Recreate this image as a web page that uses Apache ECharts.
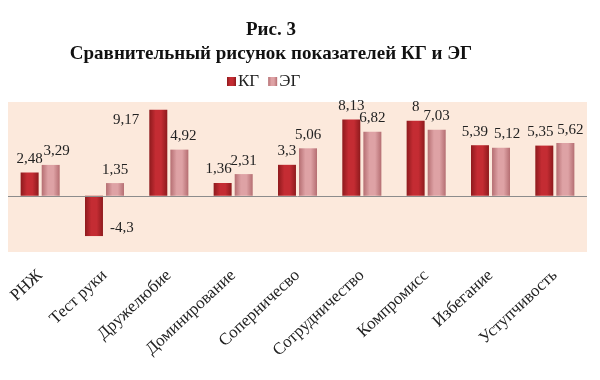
<!DOCTYPE html>
<html><head><meta charset="utf-8">
<script src="https://cdn.jsdelivr.net/npm/echarts@6/dist/echarts.min.js"></script>
<style>html,body{margin:0;padding:0;background:#fff}#c{width:600px;height:380px}</style>
</head><body><div id="c"></div>
<script>
var categories = ['РНЖ','Тест руки','Дружелюбие','Доминирование','Соперничесво','Сотрудничество','Компромисс','Избегание','Уступчивость'];
var seriesNames = ['КГ','ЭГ'];
var kgValues = [2.48,-4.3,9.17,1.36,3.3,8.13,8,5.39,5.35];
var egValues = [3.29,1.35,4.92,2.31,5.06,6.82,7.03,5.12,5.62];

var font = 'Liberation Serif';
function grad(edge, mid){
  return new echarts.graphic.LinearGradient(0,0,1,0,[
    {offset:0,color:edge},{offset:0.35,color:mid},{offset:0.65,color:mid},{offset:1,color:edge}]);
}
function fmt(p){ return String(p.value).replace('.', ','); }
var baseLabel = {show:true, position:'top', distance:6, formatter:fmt, fontFamily:font, fontSize:15, color:'#222'};
// label placement tweaks (style only), by category index
var kgShift = {0:0, 3:-4, 7:-5, 8:-4};
var egShift = {0:6, 2:4, 7:6, 8:5};
var kgData = kgValues.map(function(v,i){
  var it = {value:v};
  if (i === 2) it.label = {position:'left', distance:10, offset:[0,-33]};
  else if (v < 0) it.label = {position:'right', distance:7, offset:[0,12]};
  else if (kgShift[i]) it.label = {offset:[kgShift[i],0]};
  return it;
});
var egData = egValues.map(function(v,i){
  var it = {value:v};
  if (egShift[i]) it.label = {offset:[egShift[i],0]};
  return it;
});
var chart = echarts.init(document.getElementById('c'));
chart.setOption({
  animation:false,
  backgroundColor:'#fff',
  title:{text:'Рис. 3\nСравнительный рисунок показателей КГ и ЭГ', left:266, top:13, textAlign:'center',
    textStyle:{fontFamily:font,fontWeight:'bold',fontSize:19,lineHeight:24,color:'#111'}},
  legend:{data:seriesNames, left:222, top:68, itemWidth:9, itemHeight:9, itemGap:9,
    icon:'rect', textStyle:{fontFamily:font,fontSize:17,color:'#222',padding:[0,0,0,-3]}},
  grid:{left:8, right:13, top:102, bottom:128, show:true, backgroundColor:'#fce9dc', borderWidth:0, containLabel:false},
  xAxis:{type:'category', data:categories, axisLine:{show:false,onZero:false}, axisTick:{show:false},
    axisLabel:{rotate:43, margin:21, interval:0, fontFamily:font, fontSize:17, color:'#222'}},
  yAxis:{type:'value', min:-6, max:10, show:false, splitLine:{show:false}},
  series:[
    {name:'КГ', type:'bar', data:kgData, barWidth:18, barGap:'17%',
      itemStyle:{color:grad('#8e1a1d','#c42c33')},
      label:baseLabel,
      markLine:{silent:true, symbol:'none', data:[{yAxis:0}], label:{show:false}, lineStyle:{color:'#8c8c8c',type:'solid',width:1}}},
    {name:'ЭГ', type:'bar', data:egData, barWidth:18,
      itemStyle:{color:grad('#b56e72','#dea2a5')},
      label:baseLabel}
  ]
});
</script></body></html>
